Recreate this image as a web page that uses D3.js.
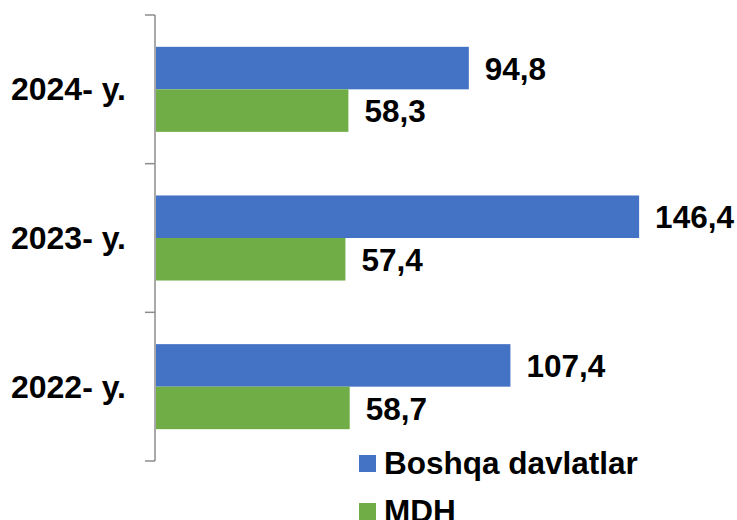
<html lang="en">
<head>
  <meta charset="UTF-8" />
  <title>Boshqa davlatlar / MDH</title>
  <script src="https://d3js.org/d3.v7.min.js"></script>
  <style>
    body {
      margin: 0;
      background: #ffffff;
    }
    text {
      font-family: "Liberation Sans", Arial, sans-serif;
      font-weight: bold;
      fill: #000000;
    }
  </style>
</head>
<body>
  <svg id="chart" width="737" height="520"></svg>
  <script>
    // data
    const years = ["2024- y.", "2023- y.", "2022- y."];
    const seriesNames = ["Boshqa davlatlar", "MDH"];
    const boshqa = [94.8, 146.4, 107.4];
    const mdh = [58.3, 57.4, 58.7];
    const colors = ["#4472C4", "#70AD47"];

    const svg = d3.select("svg#chart");
    const series = [boshqa, mdh];

    const yScale = d3.scaleBand()
      .domain(years)
      .range([15, 461])
      .paddingInner(0.428)
      .paddingOuter(0.214);

    const subScale = d3.scaleBand()
      .domain(seriesNames)
      .range([0, yScale.bandwidth()]);

    const xScale = d3.scaleLinear()
      .domain([0, 160])
      .range([156, 684]);

    const fmt = (v) => d3.format(".1f")(v).replace(".", ",");

    // bars
    let rows = [];
    years.forEach((y, i) => {
      seriesNames.forEach((s, j) => {
        rows.push({ year: y, name: s, value: series[j][i], color: colors[j] });
      });
    });

    svg.append("g")
      .selectAll("rect")
      .data(rows)
      .join("rect")
      .attr("x", xScale(0))
      .attr("y", (d) => yScale(d.year) + subScale(d.name))
      .attr("width", (d) => xScale(d.value) - xScale(0))
      .attr("height", subScale.bandwidth())
      .attr("fill", (d) => d.color);

    // value labels
    svg.append("g")
      .selectAll("text")
      .data(rows)
      .join("text")
      .attr("x", (d) => xScale(d.value) + 16)
      .attr("y", (d) => yScale(d.year) + subScale(d.name) + subScale.bandwidth() / 2)
      .attr("dy", "0.37em")
      .attr("font-size", 31.5)
      .text((d) => fmt(d.value));

    // left axis, ticks on band boundaries
    const step = yScale.step();
    const y0 = yScale.range()[0];
    const axis = svg.append("g").attr("stroke", "#8c8c8c").attr("stroke-width", 1.5);
    axis.append("line")
      .attr("x1", 155).attr("x2", 155)
      .attr("y1", y0).attr("y2", y0 + step * years.length);
    axis.selectAll("line.tick")
      .data(d3.range(years.length + 1))
      .join("line")
      .attr("class", "tick")
      .attr("x1", 145).attr("x2", 155)
      .attr("y1", (i) => y0 + i * step)
      .attr("y2", (i) => y0 + i * step);

    // category labels
    svg.append("g")
      .selectAll("text")
      .data(years)
      .join("text")
      .attr("x", 126)
      .attr("y", (d) => yScale(d) + yScale.bandwidth() / 2)
      .attr("dy", "0.34em")
      .attr("text-anchor", "end")
      .attr("font-size", 32)
      .text((d) => d);

    // legend
    const legend = svg.append("g").attr("transform", "translate(359,455)");
    seriesNames.forEach((s, j) => {
      const g = legend.append("g").attr("transform", `translate(0,${j * 48})`);
      g.append("rect")
        .attr("width", 17)
        .attr("height", 17)
        .attr("fill", colors[j]);
      g.append("text")
        .attr("x", 25)
        .attr("y", 19)
        .attr("font-size", 31.5)
        .text(s);
    });
  </script>
</body>
</html>
